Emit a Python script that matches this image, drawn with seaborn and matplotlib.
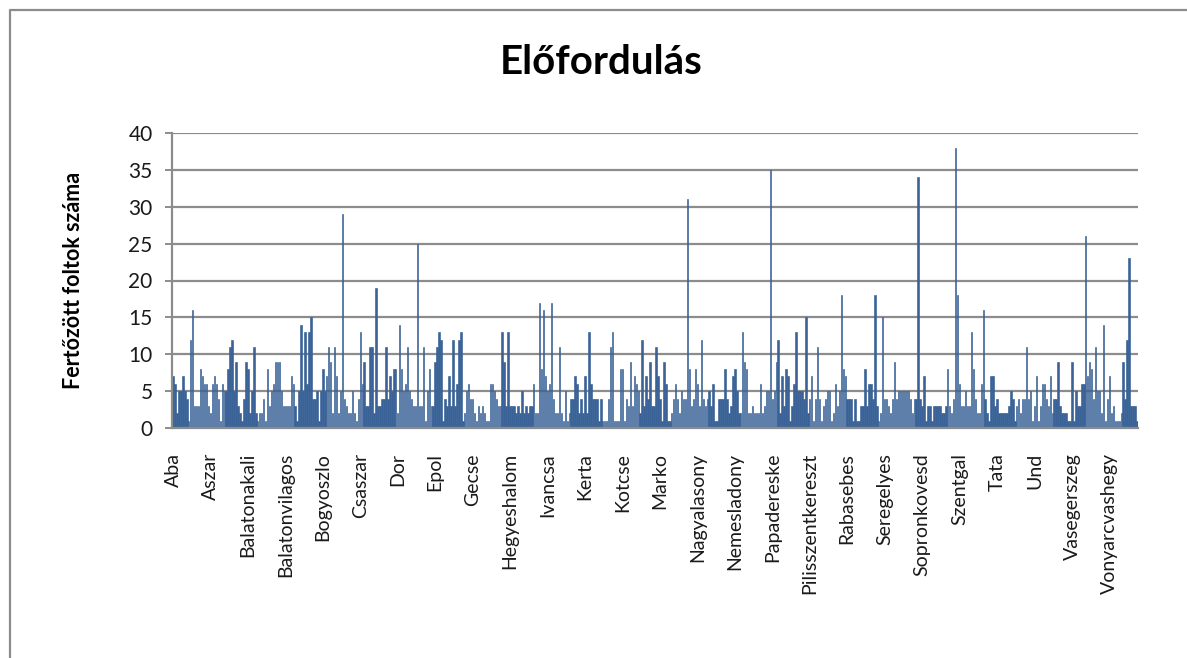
import matplotlib
matplotlib.use("Agg")
import matplotlib.pyplot as plt
from matplotlib.lines import Line2D
import seaborn as sns
import pandas as pd

# ---- data ----
seg1 = [7, 6, 2, 5, 5, 7, 5, 4, 1, 12,
        16, 3, 3, 3, 8, 7, 6, 6, 3, 2,
        6, 7, 6, 4, 1, 6, 5, 5, 8, 11,
        12, 5, 9, 3, 2, 1, 4, 9, 8, 2,
        5, 11, 2, 1, 2, 2, 4, 1, 8, 3,
        5, 6, 9, 9, 9, 5, 3, 3, 3, 3,
        7, 6, 3, 1, 5, 14, 5, 13, 6, 13,
        15, 4, 4, 5, 1, 5, 8, 5, 7, 11,
        9, 2, 11, 7, 2, 5, 29, 4, 3, 2,
        2, 5, 2, 1, 4, 13, 6]
seg2 = [9, 3, 3, 11, 11, 2, 19, 3, 3, 4,
        4, 11, 4, 7, 5, 8, 8, 2, 14, 8, 5,
        6, 11, 5, 4, 3, 3, 25, 3, 3, 11,
        1, 5, 8, 3, 3, 9, 11, 13, 12, 1,
        4, 3, 7, 3, 12, 3, 6, 12, 13, 1, 2,
        5, 6, 4, 4, 2, 1, 3, 2, 3, 2,
        1, 1, 6, 6, 5, 4, 3, 3, 13, 9,
        3, 13, 3, 3, 3, 2, 3, 2, 5, 2, 3,
        2, 3, 3, 6, 2, 2, 17, 8, 16, 7,
        5, 6, 17, 4, 2, 2, 11]
seg3 = [2, 1, 5, 1, 2, 4, 4, 7, 6, 2,
        4, 2, 7, 2, 13, 6, 4, 4, 4, 1,
        4, 1, 1, 1, 4, 11, 13, 1, 1, 1,
        8, 8, 1, 4, 3, 9, 3, 7, 6, 5, 2,
        12, 3, 7, 4, 9, 3, 3, 11, 7, 4,
        1, 9, 6, 1, 1, 2, 4, 6, 4, 2,
        5, 4, 4, 31, 8, 3, 4, 8, 6, 3,
        12, 4, 3, 4, 5, 3, 6, 1, 1, 4,
        4, 4, 8, 4, 2, 3, 7, 8, 5, 2,
        2, 13, 9, 8, 2, 2, 3]
seg4 = [2, 2, 2, 6, 2, 3, 5, 5, 35, 4,
        5, 9, 12, 2, 7, 3, 8, 7, 1, 3,
        6, 13, 5, 5, 5, 4, 15, 2, 4, 7,
        1, 4, 11, 4, 1, 3, 4, 5, 5, 1,
        2, 6, 3, 5, 18, 8, 7, 4, 4, 4,
        1, 4, 1, 1, 3, 3, 8, 3, 6, 6,
        4, 18, 3, 1, 2, 15, 4, 4, 3, 2,
        4, 9, 4, 5, 5, 5, 5, 5, 5, 4,
        2, 4, 4, 34, 4, 3, 7, 1, 3, 3,
        1, 3, 3, 3, 3, 2, 2, 3, 8]
seg5 = [3, 2, 4, 38, 18, 6, 3, 3, 5, 3,
        3, 13, 8, 4, 2, 2, 6, 16, 4, 2,
        1, 7, 7, 3, 4, 2, 2, 2, 2, 2,
        3, 5, 4, 1, 3, 4, 2, 4, 4, 11,
        4, 5, 1, 3, 7, 1, 3, 6, 6, 4,
        3, 7, 2, 4, 4, 9, 3, 2, 2, 2,
        1, 1, 9, 1, 5, 3, 3, 6, 6, 26,
        7, 9, 8, 4, 11, 5, 5, 2, 14, 1,
        4, 7, 2, 3, 1, 1, 1, 2, 9, 4,
        12, 23, 3, 3, 3, 1]
values = seg1 + seg2 + seg3 + seg4 + seg5

tick_labels = ["Aba", "Aszar", "Balatonakali", "Balatonvilagos", "Bogyoszlo",
               "Csaszar", "Dor", "Epol", "Gecse", "Hegyeshalom", "Ivancsa",
               "Kerta", "Kotcse", "Marko", "Nagyalasony", "Nemesladony",
               "Papadereske", "Pilisszentkereszt", "Rabasebes", "Seregelyes",
               "Sopronkovesd", "Szentgal", "Tata", "Und", "Vasegerszeg",
               "Vonyarcvashegy"]
label_step = 19

title = "Előfordulás"
ylabel = "Fertőzött foltok száma"

# ---- style ----
sns.set_theme(style="white")
plt.rcParams["font.family"] = ["Lato", "DejaVu Sans"]

W, H = 1187, 658
fig = plt.figure(figsize=(W / 100, H / 100), dpi=100)
fig.patch.set_facecolor("white")

ax = fig.add_axes([172 / W, 1 - 428 / H, (1138 - 172) / W, (428 - 133) / H])

bar_c = "#3A6296"
df = pd.DataFrame({"cat": [str(i) for i in range(len(values))], "value": values})
sns.barplot(data=df, x="cat", y="value", color=bar_c, saturation=1,
            width=0.75, linewidth=0.45, edgecolor=bar_c, ax=ax)

grid_c = "#8c8c8c"
ax.set_ylim(0, 40)
ax.set_yticks(range(0, 41, 5))
ax.yaxis.grid(True, color=grid_c, linewidth=1.6)
ax.xaxis.grid(False)
ax.set_axisbelow(True)
for s in ["top", "right"]:
    ax.spines[s].set_visible(False)
for s in ["left", "bottom"]:
    ax.spines[s].set_color(grid_c)
    ax.spines[s].set_linewidth(1.6)

ax.set_xticks(range(0, len(values), label_step)[:len(tick_labels)])
ax.set_xticklabels(tick_labels, rotation=90, fontsize=14, color="#1a1a1a")
ax.tick_params(axis="x", length=0, pad=18)
ax.tick_params(axis="y", left=True, length=5, width=1.4, color=grid_c,
               direction="out", pad=9, labelsize=15, labelcolor="#1a1a1a")

ax.set_xlabel("")
ax.set_ylabel(ylabel, fontsize=15.5, fontweight="bold", color="black")
ax.yaxis.set_label_coords((84 - 172) / (1138 - 172), 0.5)

fig.text(601 / W, 1 - 62 / H, title, ha="center", va="center",
         fontsize=29, fontweight="bold", color="black")

# outer chart frame
fig.add_artist(Line2D([10 / W, 10 / W, 1.0], [0.0, 1 - 10 / H, 1 - 10 / H],
                      transform=fig.transFigure, color="#8c8c8c", linewidth=1.6))

fig.savefig("out.png", dpi=100, facecolor="white")
